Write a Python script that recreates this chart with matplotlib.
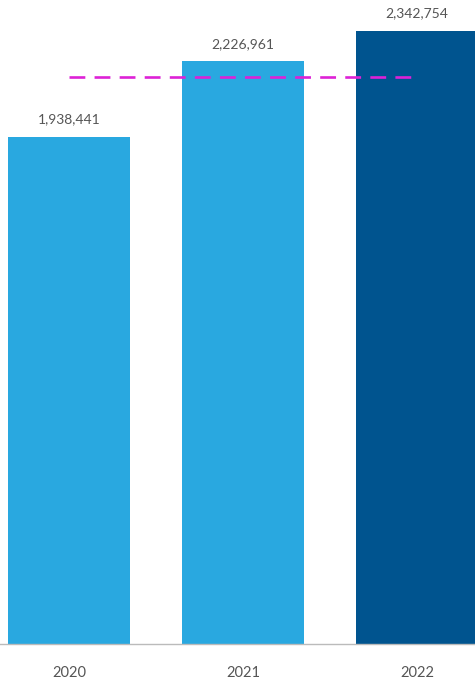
import numpy as np
import matplotlib
import matplotlib.pyplot as plt

matplotlib.use('Agg')

years = ['2020', '2021', '2022']
values = [1938441, 2226961, 2342754]
bar_colors = ['#29a8e0', '#29a8e0', '#00548f']

plt.rcParams['font.family'] = ['Lato', 'DejaVu Sans']

fig = plt.figure(figsize=(4.75, 6.8), dpi=100)
ax = fig.add_axes([0, 36 / 680, 1, 644 / 680])

x = np.arange(len(years))
ax.bar(x, values, width=0.70, color=bar_colors, zorder=2)

# average line across the bar centres
avg = np.mean(values)
ax.plot([x[0], x[-1]], [avg, avg], color='#dd22d6', linewidth=1.9,
        dashes=(6, 3.5), zorder=3)

for xi, v in zip(x, values):
    ax.text(xi, v + 0.045e6, f'{v:,}', ha='center', va='bottom',
            fontsize=10, color='#555555')

ax.set_xlim(-0.397, 2.333)
ax.set_ylim(0, 2462000)
ax.set_xticks(x)
ax.set_xticklabels(years, fontsize=10.5, color='#555555')
ax.tick_params(axis='x', length=0, pad=16)
ax.set_yticks([])
for s in ['top', 'right', 'left']:
    ax.spines[s].set_visible(False)
ax.spines['bottom'].set_color('#bbbbbb')
ax.spines['bottom'].set_linewidth(1)

fig.savefig('out.png', dpi=100)
